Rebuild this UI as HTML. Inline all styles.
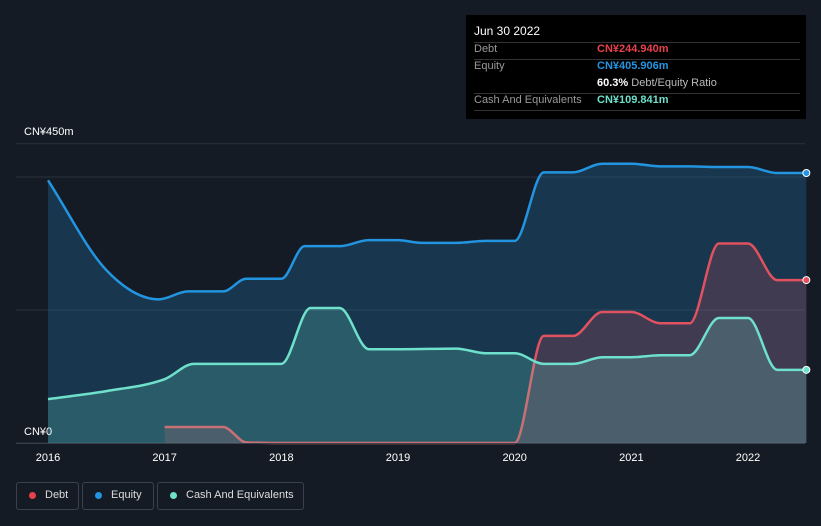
<!DOCTYPE html>
<html><head><meta charset="utf-8"><style>
body{margin:0;background:#151b24;font-family:"Liberation Sans","Noto Sans CJK SC",sans-serif;}
#wrap{position:relative;width:821px;height:526px;overflow:hidden;background:#151b24;}
svg text{font-family:"Liberation Sans","Noto Sans CJK SC",sans-serif;}
</style></head><body>
<div id="wrap">
<svg id="chart" width="821" height="526"></svg>
</div>
<script>
const years=[2016,2017,2018,2019,2020,2021,2022];
const equityX=[2016,2016.5,2016.95,2017.2,2017.5,2017.7,2018,2018.2,2018.5,2018.75,2019,2019.2,2019.5,2019.75,2020,2020.25,2020.5,2020.75,2021,2021.25,2021.5,2021.75,2022,2022.25,2022.5];
const equityV=[395,260,216,228,228,247,247,296,296,305,305,301,301,304,304,407,407,420,420,416,416,415,415,406,406];
const cashX=[2016,2016.5,2017,2017.25,2018,2018.25,2018.5,2018.75,2019,2019.5,2019.75,2020,2020.25,2020.5,2020.75,2021,2021.25,2021.5,2021.75,2022,2022.25,2022.5];
const cashV=[66,78,96,119,119,203,203,141,141,142,135,135,119,119,129,129,132,132,188,188,110,110];
const debtX=[2017,2017.5,2017.7,2018,2019,2020,2020.25,2020.5,2020.75,2021,2021.25,2021.5,2021.75,2022,2022.25,2022.5];
const debtV=[24,24,1,0,0,0,161,161,197,197,180,180,300,300,245,245];
const yTicks=[0,450];
const yTickLabels=["CN¥0","CN¥450m"];

const NS="http://www.w3.org/2000/svg";
const svg=document.getElementById('chart');
const x=t=>48+(t-2016)*116.67;
const y=v=>443-v*0.665;
function el(tag,attrs,parent){const e=document.createElementNS(NS,tag);for(const k in attrs)e.setAttribute(k,attrs[k]);(parent||svg).appendChild(e);return e;}
// monotone cubic path
function mono(xs,vs){const px=xs.map(x),py=vs.map(y),n=px.length;const d=[],m=[];
for(let i=0;i<n-1;i++)d.push((py[i+1]-py[i])/(px[i+1]-px[i]));
for(let i=0;i<n;i++){if(i==0)m.push(d[0]);else if(i==n-1)m.push(d[n-2]);else m.push(d[i-1]*d[i]<=0?0:(d[i-1]+d[i])/2);}
for(let i=0;i<n-1;i++){if(d[i]==0){m[i]=0;m[i+1]=0;continue;}const a=m[i]/d[i],b=m[i+1]/d[i],s=a*a+b*b;if(s>9){const t=3/Math.sqrt(s);m[i]=t*a*d[i];m[i+1]=t*b*d[i];}}
let p=`M${px[0]},${py[0]}`;for(let i=0;i<n-1;i++){const h=(px[i+1]-px[i])/3;p+=`C${px[i]+h},${py[i]+m[i]*h} ${px[i+1]-h},${py[i+1]-m[i+1]*h} ${px[i+1]},${py[i+1]}`;}return p;}
// grid
[0,200,400,450].forEach(v=>{const g=el('line',{x1:16,x2:805,y1:y(v),y2:y(v),stroke:'#2b323d','stroke-width':1});

});
const series=[[equityX,equityV,'#2394e0','rgba(35,148,224,0.22)','equity'],[debtX,debtV,'#e0525f','rgba(224,82,95,0.2)','debt'],[cashX,cashV,'#6ee0cc','rgba(110,224,204,0.22)','cash']];
series.forEach(([xs,vs,c,f,n])=>{const p=mono(xs,vs);
const a=el('path',{d:p+`L${x(xs[xs.length-1])},443L${x(xs[0])},443Z`,fill:f});


const l=el('path',{d:p,fill:'none',stroke:c,'stroke-width':2.5});


const dt=el('circle',{cx:x(xs[xs.length-1]),cy:y(vs[vs.length-1]),r:3.5,fill:c,stroke:'#fff','stroke-width':1});

});
el('line',{x1:16,x2:805,y1:443.5,y2:443.5,stroke:'#3a414c'});
yTicks.forEach((v,i)=>{const t=el('text',{x:24,y:i==0?435:135,fill:'#fff','font-size':11});t.textContent=yTickLabels[i];

});
years.forEach(yr=>{const t=el('text',{x:x(yr),y:461,fill:'#fff','font-size':11,'text-anchor':'middle'});t.textContent=yr;

});
</script>
<div style="position:absolute;left:466px;top:15px;width:340px;height:104px;background:#000;color:#fff;font-size:11px;">
<div style="position:absolute;left:8px;top:9px;font-size:12px;">Jun 30 2022</div>
<div style="position:absolute;left:8px;right:6px;top:27px;border-top:1px solid #333;"></div>
<div style="position:absolute;left:8px;top:28px;color:#999;">Debt</div>
<div style="position:absolute;left:131px;top:28px;color:#e8414b;font-weight:bold;">CN¥244.940m</div>
<div style="position:absolute;left:8px;right:6px;top:44px;border-top:1px solid #333;"></div>
<div style="position:absolute;left:8px;top:45px;color:#999;">Equity</div>
<div style="position:absolute;left:131px;top:45px;color:#2394e0;font-weight:bold;">CN¥405.906m</div>
<div style="position:absolute;left:131px;top:62px;color:#bbb;"><b style="color:#fff">60.3%</b> Debt/Equity Ratio</div>
<div style="position:absolute;left:8px;right:6px;top:78px;border-top:1px solid #333;"></div>
<div style="position:absolute;left:8px;top:79px;color:#999;">Cash And Equivalents</div>
<div style="position:absolute;left:131px;top:79px;color:#6ee0cc;font-weight:bold;">CN¥109.841m</div>
<div style="position:absolute;left:8px;right:6px;top:95px;border-top:1px solid #333;"></div>
</div>
<div style="position:absolute;left:16px;top:482px;height:28px;font-size:11px;color:#ddd;">
<div style="position:absolute;left:0;top:0;width:61px;height:26px;border:1px solid #3a414c;border-radius:3px;"><span style="position:absolute;left:12px;top:9px;width:7px;height:7px;border-radius:50%;background:#e8414b"></span><span style="position:absolute;left:28px;top:6px;">Debt</span></div>
<div style="position:absolute;left:66px;top:0;width:70px;height:26px;border:1px solid #3a414c;border-radius:3px;"><span style="position:absolute;left:12px;top:9px;width:7px;height:7px;border-radius:50%;background:#2394e0"></span><span style="position:absolute;left:28px;top:6px;">Equity</span></div>
<div style="position:absolute;left:141px;top:0;width:145px;height:26px;border:1px solid #3a414c;border-radius:3px;"><span style="position:absolute;left:12px;top:9px;width:7px;height:7px;border-radius:50%;background:#6ee0cc"></span><span style="position:absolute;left:28px;top:6px;">Cash And Equivalents</span></div>
</div>
</body></html>
